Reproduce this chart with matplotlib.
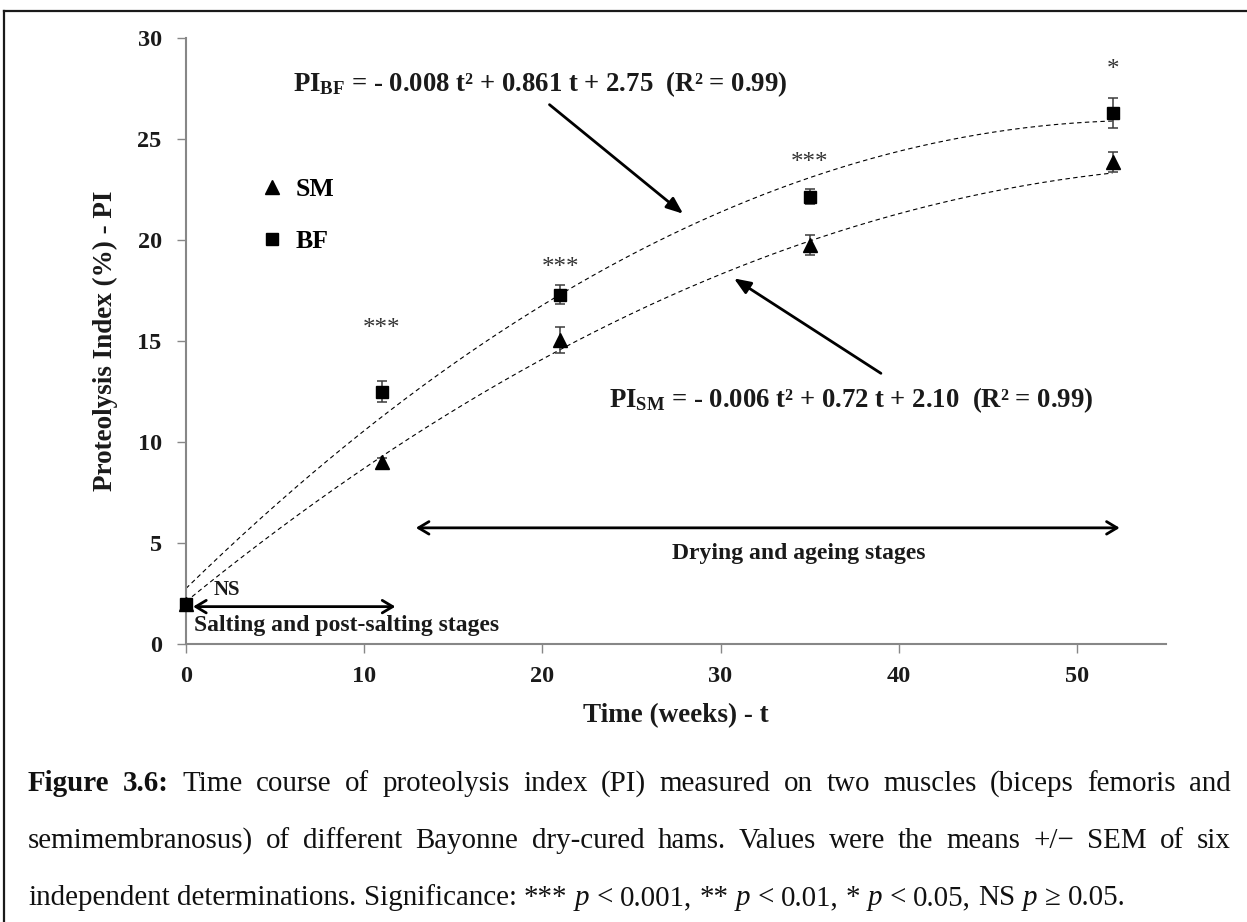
import numpy as np
import matplotlib
matplotlib.use("Agg")
import matplotlib.pyplot as plt
from matplotlib.lines import Line2D

# ---- data -------------------------------------------------------------
weeks = [0, 11, 21, 35, 52]
pi_sm = [2.0, 9.0, 15.05, 19.75, 23.85]
sem_sm = [0.0, 0.2, 0.65, 0.5, 0.5]
pi_bf = [2.0, 12.5, 17.3, 22.15, 26.3]
sem_bf = [0.0, 0.5, 0.45, 0.35, 0.75]
series_names = ["SM", "BF"]
signif = ["", "***", "***", "***", "*"]
signif_y = [None, 15.9, 18.9, 24.1, 28.7]

# quadratic trend coefficients (a, b, c) and R²
coef_bf = [-0.008, 0.861, 2.75]
coef_sm = [-0.006, 0.72, 2.10]
r2_bf = 0.99
r2_sm = 0.99

x_ticks = [0, 10, 20, 30, 40, 50]
y_ticks = [0, 5, 10, 15, 20, 25, 30]

# ---- style ------------------------------------------------------------
SERIF = ["Liberation Serif", "DejaVu Serif"]
plt.rcParams["font.family"] = SERIF
plt.rcParams["mathtext.fontset"] = "custom"
plt.rcParams["mathtext.rm"] = "Liberation Serif:bold"
plt.rcParams["mathtext.bf"] = "Liberation Serif:bold"
plt.rcParams["mathtext.it"] = "Liberation Serif:italic"

W, H = 1247, 922
fig = plt.figure(figsize=(W / 100, H / 100), dpi=100)
fig.patch.set_facecolor("white")

ax_left, ax_right, ax_top, ax_bottom = 186, 1166, 38, 644
ax = fig.add_axes([ax_left / W, 1 - ax_bottom / H,
                   (ax_right - ax_left) / W, (ax_bottom - ax_top) / H])

spine_c = "#878787"
for s in ("top", "right"):
    ax.spines[s].set_visible(False)
for s in ("left", "bottom"):
    ax.spines[s].set_color(spine_c)
    ax.spines[s].set_linewidth(1.5)

ax.set_xlim(0, 55)
ax.set_ylim(0, 30)
ax.set_xticks(x_ticks)
ax.set_yticks(y_ticks)
ax.tick_params(axis="both", direction="out", color=spine_c, width=1.0,
               length=6.5, labelsize=17.5, labelcolor="#1a1a1a")
ax.tick_params(axis="x", pad=9)
ax.tick_params(axis="y", pad=11)
for lab in ax.get_xticklabels() + ax.get_yticklabels():
    lab.set_fontweight("bold")

ax.set_xlabel("Time (weeks) - t", fontsize=19.5, fontweight="bold", color="#1a1a1a")
ax.set_ylabel("Proteolysis Index (%) - PI", fontsize=19.5, fontweight="bold", color="#1a1a1a")
ax.xaxis.set_label_coords(0.5, -0.097)
ax.yaxis.set_label_coords(-0.069, 0.5)

# ---- trend curves -----------------------------------------------------
t_fit = np.linspace(weeks[0], weeks[-1], 300)
for coef in (coef_bf, coef_sm):
    ax.plot(t_fit, np.polyval(coef, t_fit), color="black", lw=0.8,
            dashes=(4, 3), zorder=2)

# ---- measured means +/- SEM --------------------------------------------
for vals, errs, mk, size in ((pi_sm, sem_sm, "^", 10.5), (pi_bf, sem_bf, "s", 9)):
    cont = ax.errorbar(weeks, vals, yerr=errs, fmt=mk, ms=size, color="black",
                       ecolor="#3c3c3c", elinewidth=1.1, capsize=3.5, capthick=1.1,
                       zorder=3)
    cont.lines[0].set_clip_on(False)

# significance marks
star_fs = 18
for t, s, y in zip(weeks, signif, signif_y):
    if s:
        ax.annotate(s, xy=(t, y), xytext=(0, -0.47 * star_fs),
                    textcoords="offset points", ha="center", va="baseline",
                    fontsize=star_fs, color="#333333")

# legend
handles = [Line2D([], [], marker="^", ls="none", color="black", ms=10.5),
           Line2D([], [], marker="s", ls="none", color="black", ms=9)]
ax.legend(handles, series_names, loc="upper left", bbox_to_anchor=(0.0742, 0.7696),
          frameon=False, handlelength=1.0, handletextpad=0.45, labelspacing=1.13,
          borderaxespad=0, borderpad=0,
          prop={"weight": "bold", "size": 18.5, "family": SERIF})

# ---- equations with arrows ---------------------------------------------
eq_fs = 19.3
eq_bf = (r"$\mathbf{PI}_{\mathbf{BF}}$ = - %.3f t² + %.3f t + %.2f  (R² = %.2f)"
         % (-coef_bf[0], coef_bf[1], coef_bf[2], r2_bf))
eq_sm = (r"$\mathbf{PI}_{\mathbf{SM}}$ = - %.3f t² + %.2f t + %.2f  (R² = %.2f)"
         % (-coef_sm[0], coef_sm[1], coef_sm[2], r2_sm))
ax.text(6.02, 27.38, eq_bf, fontsize=eq_fs, fontweight="bold", ha="left",
        va="baseline", color="#1a1a1a")
ax.text(23.73, 11.73, eq_sm, fontsize=eq_fs, fontweight="bold", ha="left",
        va="baseline", color="#1a1a1a")

solid_arrow = dict(arrowstyle="-|>,head_length=0.5,head_width=0.2", lw=2,
                   color="black", mutation_scale=20, shrinkA=0, shrinkB=0)
ax.annotate("", xy=(27.9, 21.3), xytext=(20.4, 26.7), arrowprops=solid_arrow)
ax.annotate("", xy=(30.75, 18.1), xytext=(39.0, 13.4), arrowprops=solid_arrow)

# ---- processing stages -------------------------------------------------
span_arrow = dict(arrowstyle="<->,head_length=0.5,head_width=0.3", lw=2,
                  color="black", mutation_scale=15, shrinkA=0, shrinkB=0)
ax.annotate("", xy=(11.75, 1.85), xytext=(0.4, 1.85), arrowprops=span_arrow)
ax.annotate("", xy=(52.4, 5.75), xytext=(12.9, 5.75), arrowprops=span_arrow)
ax.text(2.29, 2.67, "NS", fontsize=15, fontweight="bold", ha="center",
        va="center", color="#1a1a1a")
ax.text(0.45, 0.94, "Salting and post-salting stages", fontsize=17,
        fontweight="bold", ha="left", va="center", color="#1a1a1a")
ax.text(34.4, 4.5, "Drying and ageing stages", fontsize=17,
        fontweight="bold", ha="center", va="center", color="#1a1a1a")

# ---- frame lines -------------------------------------------------------
fig.add_artist(Line2D([4 / W, 1], [1 - 11 / H, 1 - 11 / H], transform=fig.transFigure,
                      color="#1a1a1a", lw=1.6))
fig.add_artist(Line2D([4 / W, 4 / W], [0, 1 - 11 / H], transform=fig.transFigure,
                      color="#1a1a1a", lw=1.6))

# ---- caption -----------------------------------------------------------
cap_fs = 20.9
REG = {}
BOLD = {"fontweight": "bold"}
ITAL = {"fontstyle": "italic"}
cap_lines = [
    ([("Figure", BOLD), ("3.6:", BOLD)] +
     [(w, REG) for w in "Time course of proteolysis index (PI) measured on two muscles "
                        "(biceps femoris and".split()], True),
    ([(w, REG) for w in "semimembranosus) of different Bayonne dry-cured hams. Values "
                        "were the means +/\u2212 SEM of six".split()], True),
    ([(w, REG) for w in "independent determinations. Significance: ***".split()] +
     [("p", ITAL), ("<", REG), ("0.001,", REG), ("**", REG), ("p", ITAL), ("<", REG),
      ("0.01,", REG), ("*", REG), ("p", ITAL), ("<", REG), ("0.05,", REG), ("NS", REG),
      ("p", ITAL), ("\u2265", REG), ("0.05.", REG)], False),
]
cap_x0, cap_x1 = 28, 1231
cap_base = [791, 848, 905]
renderer = fig.canvas.get_renderer()
space_px = 0.25 * cap_fs * 100 / 72
for (words, justify), yb in zip(cap_lines, cap_base):
    items = [fig.text(0, 1 - yb / H, w, fontsize=cap_fs, ha="left", va="baseline",
                      color="#111111", **st) for w, st in words]
    widths = [t.get_window_extent(renderer).width for t in items]
    gap = (cap_x1 - cap_x0 - sum(widths)) / (len(items) - 1) if justify else space_px
    x = cap_x0
    for t, w in zip(items, widths):
        t.set_x(x / W)
        x += w + gap

fig.savefig("out.png", dpi=100, facecolor="white")
